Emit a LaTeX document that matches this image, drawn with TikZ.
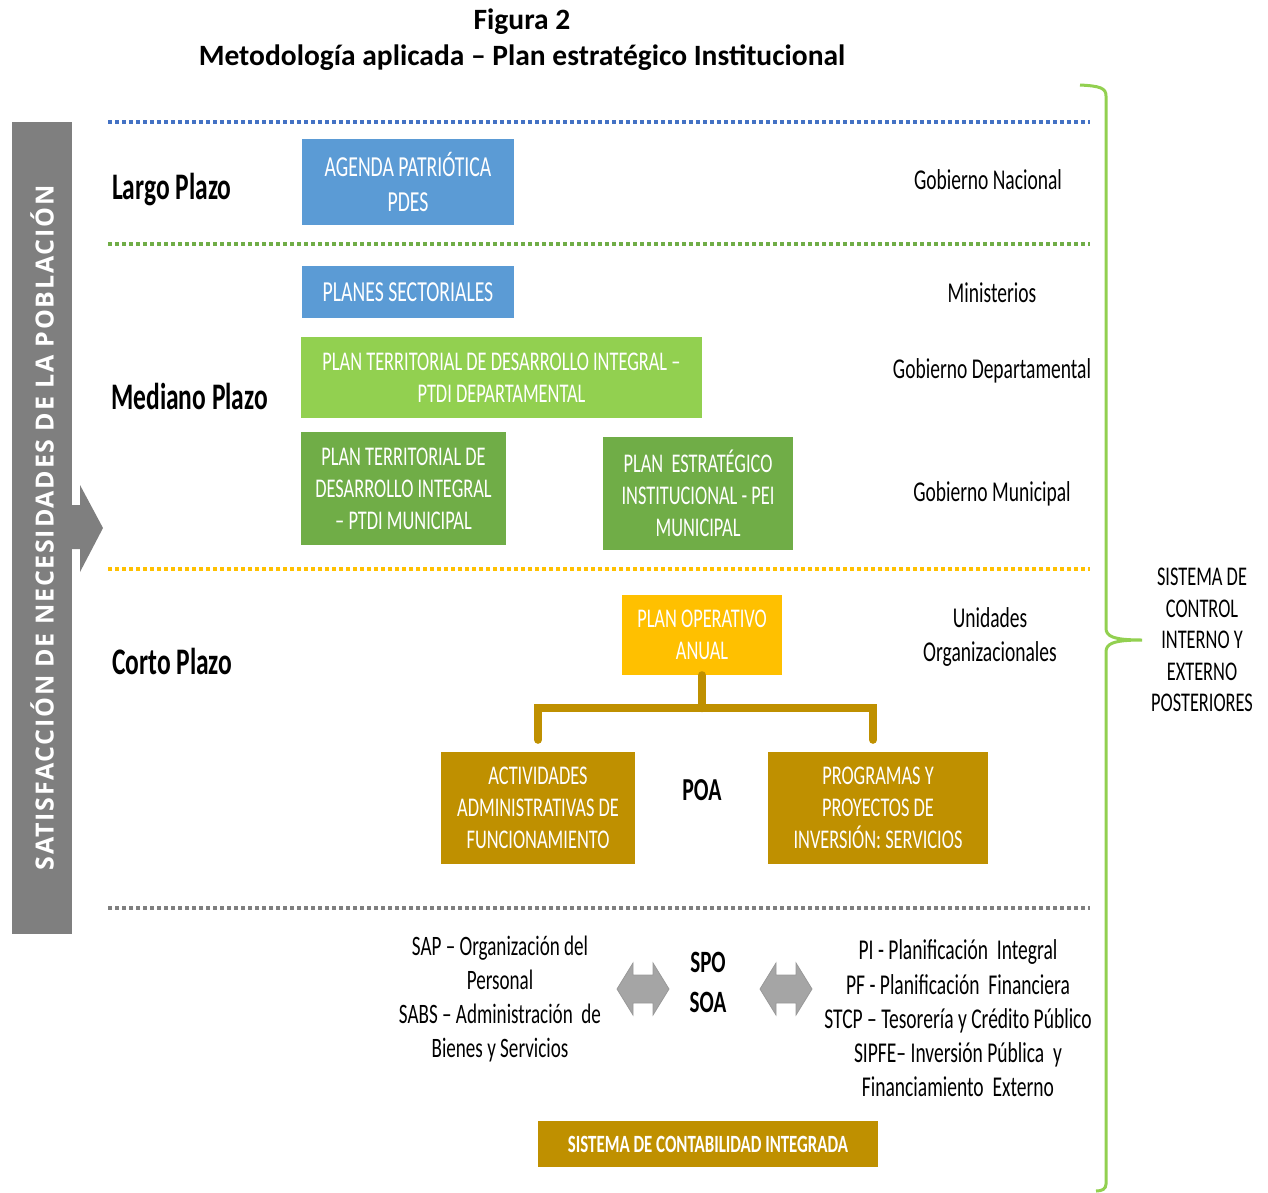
\documentclass[tikz,border=0pt]{standalone}
\usepackage{fontspec}
\setmainfont{Carlito}[FakeStretch=0.68]
\newfontfamily\titlefont{Carlito}
\newfontfamily\barfont{Open Sans}[LetterSpace=7]
\usetikzlibrary{positioning}
\definecolor{azul}{HTML}{5B9BD5}
\definecolor{verdeclaro}{HTML}{92D050}
\definecolor{verde}{HTML}{70AD47}
\definecolor{amarillo}{HTML}{FFC000}
\definecolor{dorado}{HTML}{BF9000}
\definecolor{gris}{HTML}{7F7F7F}
\definecolor{grisclaro}{HTML}{A5A5A5}
\definecolor{lineaazul}{HTML}{4472C4}
\begin{document}
\begin{tikzpicture}[x=1pt, y=-1pt,
    box/.style={fill=#1, text=white, align=center, inner sep=0pt, font=\fontsize{27}{32}\selectfont},
    lbl/.style={align=center, inner sep=0pt, font=\fontsize{28.7}{34}\selectfont},
    plazo/.style={anchor=west, inner sep=0pt, font=\bfseries\fontsize{37.5}{42}\selectfont},
    sep/.style={line width=4pt, dash pattern=on 4pt off 3pt},
    tree/.style={dorado, line width=8pt, line cap=round}]
    \useasboundingbox (0,0) rectangle (1268,1192);
    % title
    \node[font=\fontsize{29.5}{35}\selectfont\titlefont\bfseries] (fig) at (522,22) {Figura 2};
    \node[font=\fontsize{29.5}{35}\selectfont\titlefont\bfseries] (tit) at (522,58) {Metodología aplicada – Plan estratégico Institucional};
    % left bar with arrow
    \fill[gris] (12,122) rectangle (72,934);
    \fill[gris] (71,505) -- (80,505) -- (80,485) -- (103,528) -- (80,572) -- (80,549) -- (71,549) -- cycle;
    \node[rotate=90, text=white, inner sep=0pt, font=\barfont\bfseries\fontsize{25}{30}\selectfont] (sat) at (42,528) {SATISFACCIÓN DE NECESIDADES DE LA POBLACIÓN};
    % separators
    \foreach \yy/\cc in {122/lineaazul, 244/verde, 569/amarillo, 908/gris}
        \draw[sep, \cc] (108,\yy) -- (1090,\yy);
    % time horizons
    \node[plazo] (largo) at (112,190) {Largo Plazo};
    \node[plazo] (mediano) at (111,396) {Mediano Plazo};
    \node[plazo] (corto) at (112,661) {Corto Plazo};
    % plans
    \node[box=azul, minimum width=212pt, minimum height=86pt, font=\fontsize{29}{35}\selectfont] (agenda) at (408,182) {AGENDA PATRIÓTICA\\PDES};
    \node[box=azul, minimum width=212pt, minimum height=52pt, font=\fontsize{29}{35}\selectfont] (sect) at (408,292) {PLANES SECTORIALES};
    \node[box=verdeclaro, minimum width=401pt, minimum height=81pt] (ptdidep) at (501.5,377.5) {PLAN TERRITORIAL DE DESARROLLO INTEGRAL --\\PTDI DEPARTAMENTAL};
    \node[box=verde, minimum width=205pt, minimum height=113pt] (ptdimun) at (403.5,488.5) {PLAN TERRITORIAL DE\\DESARROLLO INTEGRAL\\-- PTDI MUNICIPAL};
    \node[box=verde, minimum width=190pt, minimum height=113pt] (pei) at (698,493.5) {PLAN \ ESTRATÉGICO\\INSTITUCIONAL - PEI\\MUNICIPAL};
    \node[box=amarillo, minimum width=160pt, minimum height=80pt] (poa) at (702,635) {PLAN OPERATIVO\\ANUAL};
    \node[box=dorado, minimum width=194pt, minimum height=112pt] (act) at (538,808) {ACTIVIDADES\\ADMINISTRATIVAS DE\\FUNCIONAMIENTO};
    \node[box=dorado, minimum width=220pt, minimum height=112pt] (prog) at (878,808) {PROGRAMAS Y\\PROYECTOS DE\\INVERSIÓN: SERVICIOS};
    \node[lbl, font=\bfseries\fontsize{32}{34}\selectfont] (poalbl) at (702,790) {POA};
    % POA tree
    \coordinate (j) at ([yshift=-33pt]poa.south);
    \coordinate (a1) at ([yshift=12pt]act.north);
    \coordinate (p1) at ([xshift=-5pt, yshift=12pt]prog.north);
    \draw[tree] (poa.south) -- (j);
    \draw[tree, line join=miter] (a1) |- (j) -| (p1);
    % levels of government
    \node[lbl] (nac) at (988,180) {Gobierno Nacional};
    \node[lbl] (min) at (992,293) {Ministerios};
    \node[lbl] (dep) at (992,371) {Gobierno Departamental};
    \node[lbl] (mun) at (992,494) {Gobierno Municipal};
    \node[lbl] (uni) at (990,637) {Unidades\\Organizacionales};
    % support systems
    \node[lbl, font=\fontsize{28.1}{34}\selectfont] (sap) at (500,999) {SAP -- Organización del\\Personal\\SABS -- Administración \ de\\Bienes y Servicios};
    \node[lbl, font=\bfseries\fontsize{31}{40}\selectfont] (spo) at (708,982) {SPO\\SOA};
    \node[lbl, font=\fontsize{28.7}{34.3}\selectfont] (pi) at (958,1018.5) {PI - Planificación \ Integral\\PF - Planificación \ Financiera\\STCP -- Tesorería y Crédito Público\\SIPFE-- Inversión Pública \ y\\Financiamiento \ Externo};
    \foreach \x in {617,760}
        \filldraw[fill=grisclaro, draw=gris!80, line width=0.8pt] (\x,989) -- ++(16,-26) -- ++(0,12) -- ++(20,0) -- ++(0,-12) -- ++(16,26) -- ++(-16,26) -- ++(0,-12) -- ++(-20,0) -- ++(0,12) -- cycle;
    \node[box=dorado, minimum width=340pt, minimum height=46pt, font=\bfseries\fontsize{24.8}{26}\selectfont] (sci) at (708,1144) {SISTEMA DE CONTABILIDAD INTEGRADA};
    % control brace
    \draw[verdeclaro, line width=3pt] (1080,85) .. controls (1100,86) and (1106,88) .. (1106,96) -- (1106,628)
        .. controls (1106,636) and (1112,640) .. (1142,640)
        .. controls (1112,640) and (1106,644) .. (1106,652) -- (1106,1184)
        .. controls (1106,1189) and (1102,1191) .. (1096,1191);
    \node[lbl, font=\fontsize{27}{31.5}\selectfont] (sci2) at (1202,640) {SISTEMA DE\\CONTROL\\INTERNO Y\\EXTERNO\\POSTERIORES};
\end{tikzpicture}
\end{document}
